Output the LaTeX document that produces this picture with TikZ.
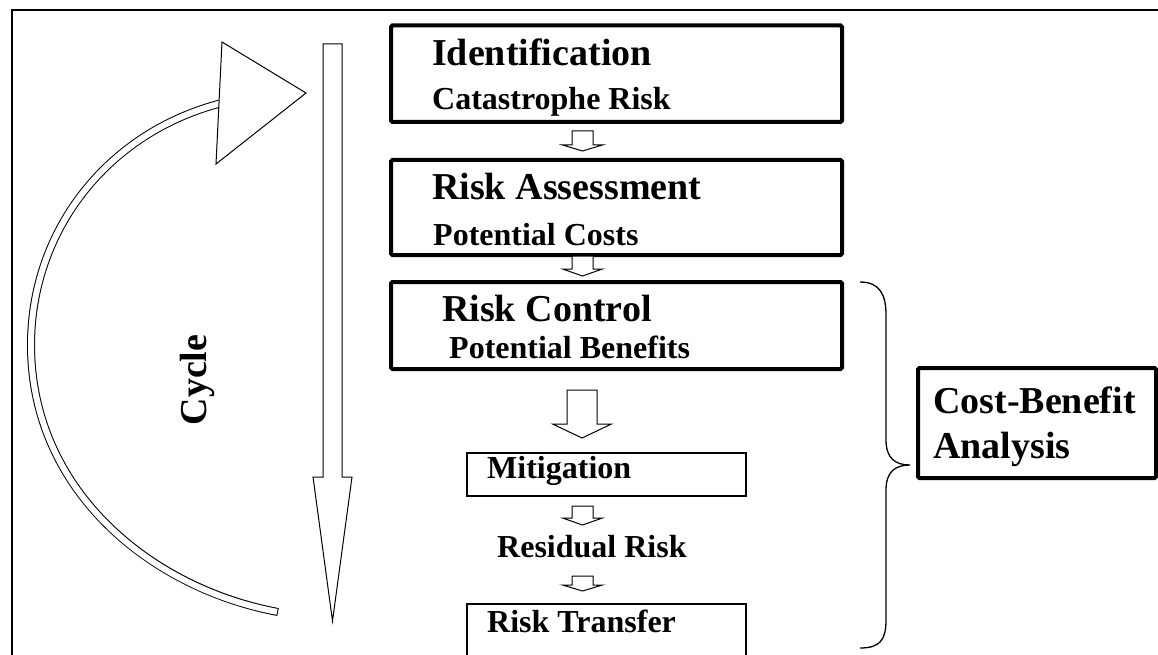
\documentclass[tikz,border=0pt]{standalone}
\usepackage{fontspec}
\setmainfont{Liberation Serif}
\tikzset{
  thickbox/.style={draw, line width=4pt, rounded corners=1.5pt, inner sep=0pt},
  thinbox/.style={draw, line width=1.2pt, inner sep=0pt},
  titletext/.style={font=\bfseries\fontsize{38}{40}\selectfont, inner sep=0pt, anchor=base west},
  subtext/.style={font=\bfseries\fontsize{32}{34}\selectfont, inner sep=0pt, anchor=base west},
  blockarrow/.style={draw, line width=1pt, fill=white, line join=miter},
}
\newcommand\blockarr[6]{%
  \draw[blockarrow] (#1-#5,#2) -- (#1+#5,#2) -- (#1+#5,#3) -- (#1+#6,#3) -- (#1,#4) -- (#1-#6,#3) -- (#1-#5,#3) -- cycle;}
\begin{document}
\begin{tikzpicture}[x=1pt, y=-1pt]
\useasboundingbox (0,0) rectangle (1158,655);
\clip (0,0) rectangle (1158,655);
% outer frame
\draw[line width=2pt] (12,10) rectangle (1220,720);

% curved cycle arrow
\draw[line width=8pt, line cap=butt] (222,103) .. controls (108,132) and (31,230) .. (31,345) .. controls (31,490) and (150,588) .. (278,612);
\draw[line width=6pt, white, line cap=butt, shorten >=1pt] (222,103) .. controls (108,132) and (31,230) .. (31,345) .. controls (31,490) and (150,588) .. (278,612);
\draw[blockarrow] (222,42) -- (306,93) -- (216,164) -- cycle;
\node[titletext, anchor=center, rotate=90] (cycle) at (197.5,380) {Cycle};

% long down arrow
\draw[blockarrow] (323,44) -- (342,44) -- (342,477) -- (352,477) -- (332.5,621) -- (313,477) -- (323,477) -- cycle;

% main boxes
\node[thickbox, minimum width=451pt, minimum height=96.5pt] (b1) at (616.5,73.75) {};
\node[thickbox, minimum width=451pt, minimum height=95pt] (b2) at (616.5,207.5) {};
\node[thickbox, minimum width=451pt, minimum height=87pt] (b3) at (616.5,325.5) {};
\node[thinbox, minimum width=279pt, minimum height=43pt] (b4) at (606.5,474.5) {};
\node[thinbox, minimum width=279pt, minimum height=96pt] (b5) at (606.5,652) {};
\node[thickbox, minimum width=238pt, minimum height=110pt] (cba) at (1037,423) {};

% texts
\node[titletext] (t1) at (432,66) {Identification};
\node[subtext] (s1) at (432,110) {Catastrophe Risk};
\node[titletext] (t2) at (432,199) {Risk Assessment};
\node[subtext] (s2) at (433,245) {Potential Costs};
\node[titletext] (t3) at (442,321) {Risk Control};
\node[subtext] (s3) at (449,358) {Potential Benefits};
\node[subtext] (t4) at (487,478) {Mitigation};
\node[subtext] (res) at (497,557) {Residual Risk};
\node[subtext] (t5) at (487,632) {Risk Transfer};
\node[titletext] (c1) at (933,413) {Cost-Benefit};
\node[titletext] (c2) at (933,458) {Analysis};

% small block arrows
\blockarr{582.5}{131}{145}{151}{10.5}{20}
\blockarr{582.5}{256}{269}{276}{10.5}{20}
\blockarr{582}{390}{424}{438}{15}{29.5}
\blockarr{582.5}{506}{518}{525}{10.5}{20}
\blockarr{582.5}{576}{585}{591}{10.5}{20}

% brace
\draw[line width=1.3pt] (860,282) .. controls (880,282) and (886,295) .. (886,315) -- (886,440)
  .. controls (886,458) and (895,465) .. (910,465)
  .. controls (895,465) and (886,472) .. (886,490) -- (886,620)
  .. controls (886,640) and (880,648) .. (860,648);
\end{tikzpicture}
\end{document}
